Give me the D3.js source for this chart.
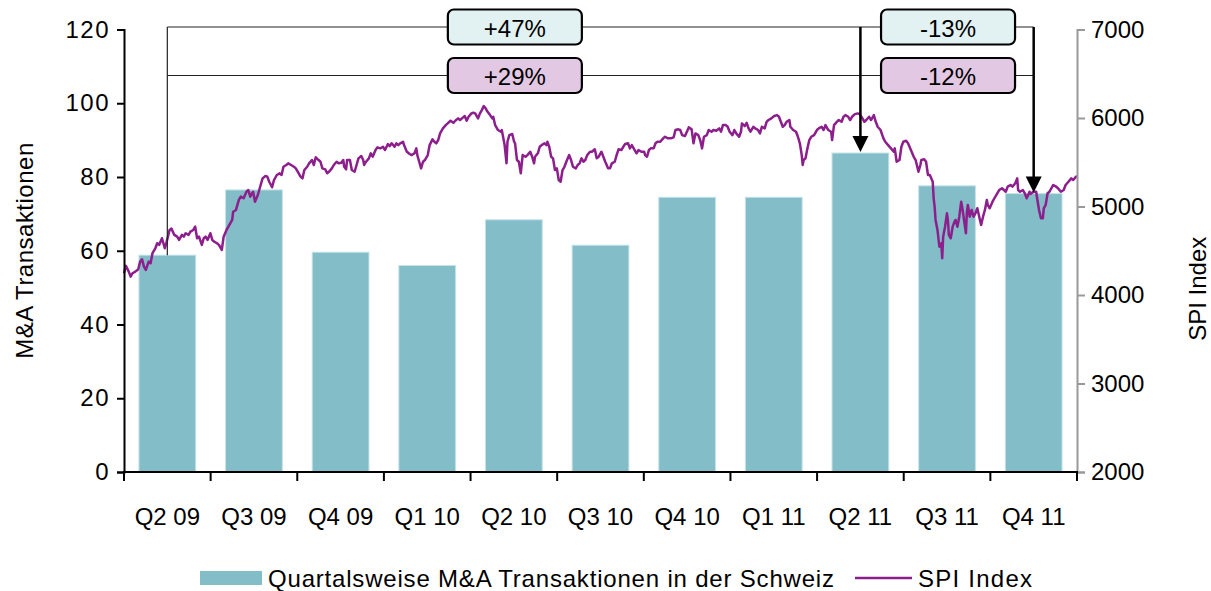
<!DOCTYPE html>
<html>
<head>
<meta charset="utf-8">
<script src="https://cdn.jsdelivr.net/npm/d3@7"></script>
<style>
  body { margin: 0; background: #fff; }
  text { font-family: "Liberation Sans", Arial, sans-serif; fill: #000; }
</style>
</head>
<body>
<svg id="chart" width="1211" height="591"></svg>
<script>
// Quarterly M&A deal counts in Switzerland
const quarters = ["Q2 09", "Q3 09", "Q4 09", "Q1 10", "Q2 10", "Q3 10", "Q4 10", "Q1 11", "Q2 11", "Q3 11", "Q4 11"];
const dealCounts = [58.8, 76.5, 59.6, 56, 68.4, 61.5, 74.5, 74.5, 86.5, 77.6, 75.5];

// Axis ticks
const leftTicks = [0, 20, 40, 60, 80, 100, 120];
const rightTicks = [2000, 3000, 4000, 5000, 6000, 7000];

// Change annotations: row 0 = deals, row 1 = SPI
const changeRows = [
  { row: 0, from: "Q2 09", to: "Q2 11", label: "+47%" },
  { row: 0, from: "Q2 11", to: "Q4 11", label: "-13%" },
  { row: 1, from: "Q2 09", to: "Q2 11", label: "+29%" },
  { row: 1, from: "Q2 11", to: "Q4 11", label: "-12%" }
];

// SPI index level
const spiSeries = [
["2009-04-01",4246],["2009-04-03",4329],["2009-04-06",4264],["2009-04-08",4208],["2009-04-10",4246],["2009-04-13",4264],
["2009-04-16",4291],["2009-04-18",4377],["2009-04-20",4404],["2009-04-22",4321],["2009-04-24",4284],["2009-04-27",4377],
["2009-04-29",4359],["2009-05-01",4472],["2009-05-04",4528],["2009-05-06",4585],["2009-05-08",4566],["2009-05-11",4641],
["2009-05-12",4603],["2009-05-14",4528],["2009-05-16",4603],["2009-05-19",4735],["2009-05-21",4750],["2009-05-24",4679],
["2009-05-27",4659],["2009-05-29",4622],["2009-06-01",4679],["2009-06-03",4659],["2009-06-05",4698],["2009-06-08",4679],
["2009-06-10",4716],["2009-06-13",4735],["2009-06-15",4772],["2009-06-17",4641],["2009-06-19",4659],["2009-06-22",4566],
["2009-06-24",4641],["2009-06-26",4659],["2009-06-28",4622],["2009-07-01",4698],["2009-07-03",4622],["2009-07-05",4603],
["2009-07-08",4585],["2009-07-10",4566],["2009-07-13",4509],["2009-07-15",4659],["2009-07-18",4735],["2009-07-20",4772],
["2009-07-24",4848],["2009-07-25",4941],["2009-07-28",4961],["2009-07-31",5074],["2009-08-02",5111],["2009-08-05",5093],
["2009-08-08",5167],["2009-08-10",5186],["2009-08-12",5111],["2009-08-15",5167],["2009-08-17",5054],["2009-08-20",5130],
["2009-08-22",5206],["2009-08-25",5318],["2009-08-28",5344],["2009-08-30",5337],["2009-09-01",5280],["2009-09-04",5217],
["2009-09-06",5299],["2009-09-09",5356],["2009-09-12",5375],["2009-09-14",5356],["2009-09-16",5449],["2009-09-19",5469],
["2009-09-21",5488],["2009-09-24",5469],["2009-09-27",5449],["2009-09-29",5431],["2009-10-01",5393],["2009-10-04",5337],
["2009-10-06",5318],["2009-10-08",5412],["2009-10-11",5449],["2009-10-13",5488],["2009-10-16",5525],["2009-10-18",5469],
["2009-10-20",5556],["2009-10-23",5525],["2009-10-25",5506],["2009-10-27",5431],["2009-10-30",5420],["2009-11-01",5375],
["2009-11-03",5393],["2009-11-06",5431],["2009-11-08",5469],["2009-11-11",5506],["2009-11-13",5488],["2009-11-16",5495],
["2009-11-18",5525],["2009-11-19",5449],["2009-11-21",5420],["2009-11-22",5525],["2009-11-25",5525],["2009-11-27",5412],
["2009-11-30",5393],["2009-12-02",5469],["2009-12-04",5544],["2009-12-07",5570],["2009-12-09",5525],["2009-12-10",5469],
["2009-12-12",5506],["2009-12-15",5544],["2009-12-17",5601],["2009-12-19",5562],["2009-12-22",5638],["2009-12-24",5668],
["2009-12-27",5657],["2009-12-30",5675],["2010-01-01",5638],["2010-01-04",5706],["2010-01-06",5683],["2010-01-08",5714],
["2010-01-11",5675],["2010-01-13",5714],["2010-01-15",5694],["2010-01-17",5714],["2010-01-20",5732],["2010-01-21",5694],
["2010-01-24",5619],["2010-01-27",5593],["2010-01-29",5581],["2010-02-01",5601],["2010-02-03",5657],["2010-02-04",5581],
["2010-02-06",5506],["2010-02-08",5431],["2010-02-10",5506],["2010-02-12",5525],["2010-02-15",5581],["2010-02-17",5694],
["2010-02-20",5759],["2010-02-22",5732],["2010-02-24",5714],["2010-02-26",5751],["2010-02-28",5826],["2010-03-03",5883],
["2010-03-06",5920],["2010-03-08",5939],["2010-03-11",5969],["2010-03-14",5946],["2010-03-16",5969],["2010-03-19",5996],
["2010-03-21",5977],["2010-03-23",5996],["2010-03-26",6022],["2010-03-28",5969],["2010-03-30",6014],["2010-04-02",6052],
["2010-04-04",6059],["2010-04-06",6052],["2010-04-09",5996],["2010-04-11",6052],["2010-04-13",6089],["2010-04-15",6135],
["2010-04-17",6109],["2010-04-19",6070],["2010-04-21",6044],["2010-04-24",5996],["2010-04-25",6014],["2010-04-27",5920],
["2010-04-30",5864],["2010-05-03",5845],["2010-05-04",5864],["2010-05-07",5694],["2010-05-09",5488],["2010-05-10",5732],
["2010-05-12",5807],["2010-05-15",5819],["2010-05-17",5732],["2010-05-18",5714],["2010-05-20",5525],["2010-05-22",5506],
["2010-05-24",5375],["2010-05-26",5581],["2010-05-29",5562],["2010-05-31",5581],["2010-06-03",5619],["2010-06-05",5562],
["2010-06-07",5488],["2010-06-08",5562],["2010-06-11",5601],["2010-06-13",5675],["2010-06-15",5694],["2010-06-18",5714],
["2010-06-20",5694],["2010-06-21",5732],["2010-06-23",5675],["2010-06-25",5562],["2010-06-27",5544],["2010-06-29",5412],
["2010-07-01",5431],["2010-07-03",5299],["2010-07-05",5280],["2010-07-07",5412],["2010-07-09",5449],["2010-07-11",5506],
["2010-07-14",5581],["2010-07-16",5525],["2010-07-18",5449],["2010-07-21",5431],["2010-07-23",5469],["2010-07-25",5488],
["2010-07-27",5544],["2010-07-29",5506],["2010-07-31",5525],["2010-08-02",5581],["2010-08-05",5619],["2010-08-07",5619],
["2010-08-10",5646],["2010-08-12",5544],["2010-08-14",5562],["2010-08-17",5619],["2010-08-19",5562],["2010-08-21",5506],
["2010-08-24",5431],["2010-08-26",5431],["2010-08-28",5488],["2010-08-31",5506],["2010-09-02",5581],["2010-09-04",5646],
["2010-09-07",5638],["2010-09-09",5675],["2010-09-11",5706],["2010-09-14",5714],["2010-09-16",5657],["2010-09-18",5694],
["2010-09-21",5638],["2010-09-23",5601],["2010-09-25",5638],["2010-09-28",5619],["2010-10-01",5619],["2010-10-02",5581],
["2010-10-04",5562],["2010-10-06",5638],["2010-10-08",5657],["2010-10-11",5657],["2010-10-13",5714],["2010-10-15",5732],
["2010-10-18",5732],["2010-10-21",5770],["2010-10-23",5788],["2010-10-26",5770],["2010-10-29",5770],["2010-11-01",5781],
["2010-11-03",5864],["2010-11-06",5872],["2010-11-08",5864],["2010-11-10",5807],["2010-11-13",5796],["2010-11-15",5845],
["2010-11-17",5894],["2010-11-20",5872],["2010-11-22",5714],["2010-11-24",5826],["2010-11-27",5807],["2010-11-29",5751],
["2010-12-01",5657],["2010-12-03",5788],["2010-12-06",5807],["2010-12-08",5864],["2010-12-11",5845],["2010-12-13",5864],
["2010-12-16",5856],["2010-12-19",5883],["2010-12-21",5845],["2010-12-23",5920],["2010-12-26",5920],["2010-12-28",5901],
["2010-12-30",5845],["2011-01-02",5807],["2011-01-04",5864],["2011-01-06",5826],["2011-01-09",5788],["2011-01-11",5845],
["2011-01-12",5939],["2011-01-15",5909],["2011-01-17",5946],["2011-01-19",5883],["2011-01-21",5845],["2011-01-24",5901],
["2011-01-26",5883],["2011-01-29",5864],["2011-01-31",5826],["2011-02-02",5901],["2011-02-05",5883],["2011-02-07",5957],
["2011-02-09",5977],["2011-02-12",5996],["2011-02-15",6022],["2011-02-18",6033],["2011-02-20",6014],["2011-02-22",5957],
["2011-02-24",5901],["2011-02-26",5920],["2011-02-28",5957],["2011-03-03",5977],["2011-03-04",5901],["2011-03-07",5864],
["2011-03-10",5845],["2011-03-12",5788],["2011-03-14",5714],["2011-03-16",5581],["2011-03-17",5469],["2011-03-18",5525],
["2011-03-20",5544],["2011-03-22",5657],["2011-03-24",5751],["2011-03-26",5788],["2011-03-29",5807],["2011-04-01",5864],
["2011-04-03",5883],["2011-04-06",5901],["2011-04-08",5864],["2011-04-10",5920],["2011-04-13",5864],["2011-04-16",5845],
["2011-04-17",5751],["2011-04-19",5920],["2011-04-22",5957],["2011-04-24",5977],["2011-04-27",5957],["2011-04-29",6014],
["2011-05-01",6033],["2011-05-04",6014],["2011-05-06",5977],["2011-05-08",6014],["2011-05-11",6044],["2011-05-14",6052],
["2011-05-16",6044],["2011-05-19",5996],["2011-05-21",5957],["2011-05-23",5977],["2011-05-26",6014],["2011-05-28",5977],
["2011-05-31",6033],["2011-06-02",5957],["2011-06-04",5901],["2011-06-07",5864],["2011-06-10",5773],["2011-06-12",5732],
["2011-06-15",5694],["2011-06-18",5657],["2011-06-21",5619],["2011-06-22",5657],["2011-06-24",5506],["2011-06-27",5525],
["2011-06-29",5675],["2011-07-01",5732],["2011-07-04",5743],["2011-07-06",5714],["2011-07-09",5638],["2011-07-12",5562],
["2011-07-14",5525],["2011-07-17",5393],["2011-07-19",5469],["2011-07-20",5525],["2011-07-23",5533],["2011-07-25",5506],
["2011-07-27",5356],["2011-07-29",5356],["2011-08-01",5280],["2011-08-02",5093],["2011-08-03",4998],["2011-08-04",4848],
["2011-08-06",4735],["2011-08-08",4546],["2011-08-10",4585],["2011-08-11",4416],["2011-08-12",4659],["2011-08-14",4772],
["2011-08-16",4923],["2011-08-17",4848],["2011-08-18",4679],["2011-08-20",4641],["2011-08-22",4772],["2011-08-24",4829],
["2011-08-25",4848],["2011-08-27",4772],["2011-08-29",4885],["2011-08-31",5054],["2011-09-01",4998],["2011-09-03",4848],
["2011-09-05",4698],["2011-09-06",4941],["2011-09-07",5017],["2011-09-09",4885],["2011-09-11",4961],["2011-09-13",4885],
["2011-09-15",4923],["2011-09-17",4980],["2011-09-19",4885],["2011-09-21",4791],["2011-09-23",4885],["2011-09-25",4961],
["2011-09-27",5074],["2011-09-28",5017],["2011-09-30",4980],["2011-10-03",5054],["2011-10-05",5093],["2011-10-08",5149],
["2011-10-10",5186],["2011-10-13",5206],["2011-10-15",5186],["2011-10-17",5167],["2011-10-19",5224],["2011-10-22",5243],
["2011-10-24",5224],["2011-10-27",5262],["2011-10-29",5318],["2011-10-30",5186],["2011-11-01",5167],["2011-11-04",5186],
["2011-11-06",5149],["2011-11-08",5093],["2011-11-11",5167],["2011-11-12",5141],["2011-11-15",5167],["2011-11-18",5167],
["2011-11-19",5093],["2011-11-21",4961],["2011-11-23",4867],["2011-11-25",4867],["2011-11-26",4980],["2011-11-28",5017],
["2011-11-30",5149],["2011-12-02",5167],["2011-12-04",5206],["2011-12-06",5243],["2011-12-09",5224],["2011-12-11",5206],
["2011-12-14",5167],["2011-12-17",5186],["2011-12-19",5243],["2011-12-22",5280],["2011-12-25",5318],["2011-12-27",5299],
["2011-12-30",5337],["2011-12-31",5344]
];

const barColor = "#83bdc8";
const lineColor = "#8c1f8c";
const fontSize = 24;
const fontFamily = "Liberation Sans, Arial, sans-serif";

const svg = d3.select("#chart");
const plot = { left: 124, right: 1077, top: 29.5, bottom: 472 };

const x = d3.scaleBand().domain(quarters).range([plot.left, plot.right])
  .paddingInner(0.345).paddingOuter(0.1725);
const yLeft = d3.scaleLinear().domain([0, 120]).range([plot.bottom, plot.top]);
const yRight = d3.scaleLinear().domain([2000, 7000]).range([plot.bottom, plot.top]);
const parseDate = d3.timeParse("%Y-%m-%d");
const spi = spiSeries.map(([d, v]) => ({ date: parseDate(d), value: v }));
const xTime = d3.scaleTime()
  .domain([parseDate("2009-04-01"), parseDate("2011-12-31")])
  .range([plot.left, plot.right]);

// Bars
svg.append("g").selectAll("rect").data(quarters).join("rect")
  .attr("x", q => x(q))
  .attr("width", x.bandwidth())
  .attr("y", (q, i) => yLeft(dealCounts[i]))
  .attr("height", (q, i) => plot.bottom - yLeft(dealCounts[i]))
  .attr("fill", barColor)
  .attr("stroke", "#c4e2e7")
  .attr("stroke-width", 1);

// SPI line
svg.append("path").datum(spi)
  .attr("fill", "none")
  .attr("stroke", lineColor)
  .attr("stroke-width", 2.5)
  .attr("stroke-linejoin", "round")
  .attr("d", d3.line().x(d => xTime(d.date)).y(d => yRight(d.value)));

// Left axis
const gLeft = svg.append("g").attr("transform", `translate(${plot.left},0)`)
  .call(d3.axisLeft(yLeft).tickValues(leftTicks).tickSize(7).tickPadding(7));
gLeft.select(".domain").attr("stroke", "#000").attr("stroke-width", 2);
gLeft.selectAll(".tick line").attr("stroke", "#000").attr("stroke-width", 2);
gLeft.selectAll("text").attr("font-size", fontSize).attr("font-family", fontFamily)
  .attr("letter-spacing", 1.5);

// Right axis
const gRight = svg.append("g").attr("transform", `translate(${plot.right},0)`)
  .call(d3.axisRight(yRight).tickValues(rightTicks).tickFormat(d3.format("d")).tickSize(8).tickPadding(6));
gRight.select(".domain").attr("stroke", "#999").attr("stroke-width", 2);
gRight.selectAll(".tick line").attr("stroke", "#999").attr("stroke-width", 2);
gRight.selectAll("text").attr("font-size", fontSize).attr("font-family", fontFamily);

// Bottom axis: labels centred under each quarter, ticks on category boundaries
const gBottom = svg.append("g").attr("transform", `translate(0,${plot.bottom})`)
  .call(d3.axisBottom(x).tickSize(0).tickPadding(36));
gBottom.select(".domain").remove();
gBottom.selectAll("text").attr("font-size", fontSize).attr("font-family", fontFamily);
const boundaries = quarters.map(q => x(q) - x.step() * x.paddingInner() / 2).concat([plot.right]);
svg.append("line")
  .attr("x1", plot.left - 1).attr("x2", plot.right + 1)
  .attr("y1", plot.bottom).attr("y2", plot.bottom)
  .attr("stroke", "#000").attr("stroke-width", 2);
svg.append("g").selectAll("line").data(boundaries).join("line")
  .attr("x1", d => d).attr("x2", d => d)
  .attr("y1", plot.bottom).attr("y2", plot.bottom + 9)
  .attr("stroke", "#000").attr("stroke-width", 2);

// Axis titles
svg.append("text")
  .attr("transform", `translate(24,${(plot.top + plot.bottom) / 2}) rotate(-90)`)
  .attr("text-anchor", "middle").attr("dominant-baseline", "central")
  .attr("font-size", fontSize).attr("textLength", 216).attr("lengthAdjust", "spacing")
  .text("M&A Transaktionen");
svg.append("text")
  .attr("transform", `translate(1197,${(plot.top + plot.bottom) / 2 + 38}) rotate(-90)`)
  .attr("text-anchor", "middle").attr("dominant-baseline", "central")
  .attr("font-size", fontSize).text("SPI Index");

// Change annotations
const rowY = [27, 75.5];
const rowFill = ["#e2f1f2", "#e3c8e3"];
const center = q => x(q) + x.bandwidth() / 2;
const gAnn = svg.append("g");
const firstQ = quarters[0];
const firstTop = yLeft(dealCounts[0]);

// Horizontal connector lines
rowY.forEach(yy => {
  gAnn.append("line")
    .attr("x1", center(firstQ)).attr("x2", center("Q4 11"))
    .attr("y1", yy).attr("y2", yy)
    .attr("stroke", "#222").attr("stroke-width", 1.2);
});
// Drop line to the first bar
gAnn.append("line")
  .attr("x1", center(firstQ)).attr("x2", center(firstQ))
  .attr("y1", rowY[0]).attr("y2", firstTop)
  .attr("stroke", "#222").attr("stroke-width", 1.2);

// Arrows down to the bars
["Q2 11", "Q4 11"].forEach(q => {
  const cx = center(q);
  const tip = yLeft(dealCounts[quarters.indexOf(q)]) - 1;
  const headH = 16, headW = 8;
  gAnn.append("line")
    .attr("x1", cx).attr("x2", cx)
    .attr("y1", rowY[0]).attr("y2", tip - headH + 1)
    .attr("stroke", "#000").attr("stroke-width", 2.5);
  gAnn.append("path")
    .attr("d", `M${cx - headW},${tip - headH} L${cx + headW},${tip - headH} L${cx},${tip} Z`)
    .attr("fill", "#000");
});

// Label boxes
const boxW = 134, boxH = 35;
changeRows.forEach(c => {
  const mx = (center(c.from) + center(c.to)) / 2 + 1;
  const yy = rowY[c.row];
  gAnn.append("rect")
    .attr("x", mx - boxW / 2).attr("y", yy - boxH / 2)
    .attr("width", boxW).attr("height", boxH)
    .attr("rx", 6).attr("ry", 6)
    .attr("fill", rowFill[c.row])
    .attr("stroke", "#000").attr("stroke-width", 2.2);
  gAnn.append("text")
    .attr("x", mx).attr("y", yy + 1)
    .attr("text-anchor", "middle").attr("dominant-baseline", "central")
    .attr("font-size", fontSize).text(c.label);
});

// Legend
const gLeg = svg.append("g");
gLeg.append("rect").attr("x", 200).attr("y", 571).attr("width", 62).attr("height", 14).attr("fill", barColor);
gLeg.append("text").attr("x", 268).attr("y", 578).attr("dominant-baseline", "central")
  .attr("font-size", fontSize).attr("textLength", 566).attr("lengthAdjust", "spacing")
  .text("Quartalsweise M&A Transaktionen in der Schweiz");
gLeg.append("line").attr("x1", 855).attr("x2", 912).attr("y1", 578).attr("y2", 578)
  .attr("stroke", lineColor).attr("stroke-width", 2.5);
gLeg.append("text").attr("x", 918).attr("y", 578).attr("dominant-baseline", "central")
  .attr("font-size", fontSize).attr("textLength", 114).attr("lengthAdjust", "spacing")
  .text("SPI Index");
</script>
</body>
</html>
